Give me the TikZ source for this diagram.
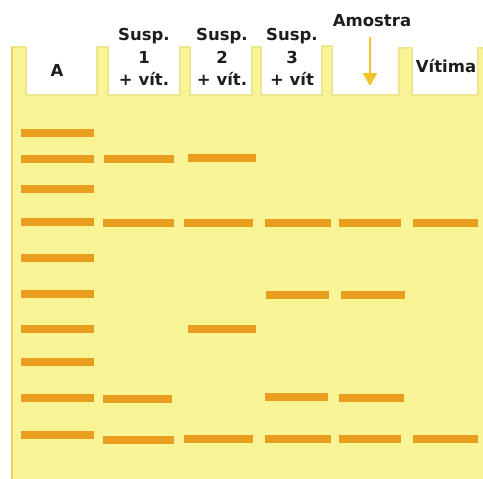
\documentclass[tikz,border=0pt]{standalone}
\usepackage{fontspec}
\setmainfont{DejaVu Sans}
\usetikzlibrary{arrows.meta}
\definecolor{gel}{RGB}{249,244,150}
\definecolor{gelline}{RGB}{238,230,140}
\definecolor{bandc}{RGB}{233,158,32}
\definecolor{arrowc}{RGB}{240,196,40}
\definecolor{txt}{RGB}{30,30,30}
\tikzset{
  lbl/.style={font=\bfseries\fontsize{16.5}{22.5}\selectfont, text=txt, align=center, inner sep=0pt},
  bandbox/.style={fill=bandc, draw=none},
  gelbody/.style={fill=gel, draw=gelline, line width=1.5pt, line join=miter},
  pointer/.style={draw=arrowc, line width=2.2pt, -{Triangle[width=14pt,length=13pt]}, arrowc}
}
\newcommand{\bnd}[3]{\fill[bandbox] (#1,#3-4) rectangle (#2,#3+4);}
\begin{document}
\begin{tikzpicture}[x=1pt,y=-1pt]
\useasboundingbox (0,0) rectangle (483,479);
\fill[white] (0,0) rectangle (483,479);
% gel with wells
\path[gelbody] (12,481) -- (12,47) -- (26,47) -- (26,95) -- (97,95) -- (97,47) -- (108,47) -- (108,95)
  -- (180,95) -- (180,47) -- (190,47) -- (190,95) -- (252,95) -- (252,47) -- (261,47) -- (261,95)
  -- (322,95) -- (322,46) -- (332,46) -- (332,95) -- (399,95) -- (399,48) -- (412,48) -- (412,95)
  -- (478,95) -- (478,48) -- (485,48) -- (485,481) -- cycle;
\draw[gelline!70!orange, line width=2pt] (12,47) -- (12,481);
% labels
\node[lbl] (la) at (57,70) {A};
\node[lbl] (l1) at (144,57) {Susp.\\1\\+ vít.};
\node[lbl] (l2) at (222,57) {Susp.\\2\\+ vít.};
\node[lbl] (l3) at (292,57) {Susp.\\3\\+ vít};
\node[lbl] (lam) at (372,21) {Amostra};
\node[lbl] (lv) at (446,66) {Vítima};
\coordinate (arrS) at (370,37);
\coordinate (arrE) at (370,86);
\draw[pointer] (arrS) -- (arrE);
% lane A (ladder)
\foreach \y in {133,159,189,222,258,294,329,362,398,435} {\bnd{21}{94}{\y}}
% lane 1
\bnd{104}{174}{159}\bnd{103}{174}{223}\bnd{103}{172}{399}\bnd{103}{174}{440}
% lane 2
\bnd{188}{256}{158}\bnd{184}{253}{223}\bnd{188}{256}{329}\bnd{184}{253}{439}
% lane 3
\bnd{265}{331}{223}\bnd{266}{329}{295}\bnd{265}{328}{397}\bnd{265}{331}{439}
% Amostra
\bnd{339}{401}{223}\bnd{341}{405}{295}\bnd{339}{404}{398}\bnd{339}{401}{439}
% Vitima
\bnd{413}{478}{223}\bnd{413}{478}{439}
\end{tikzpicture}
\end{document}
